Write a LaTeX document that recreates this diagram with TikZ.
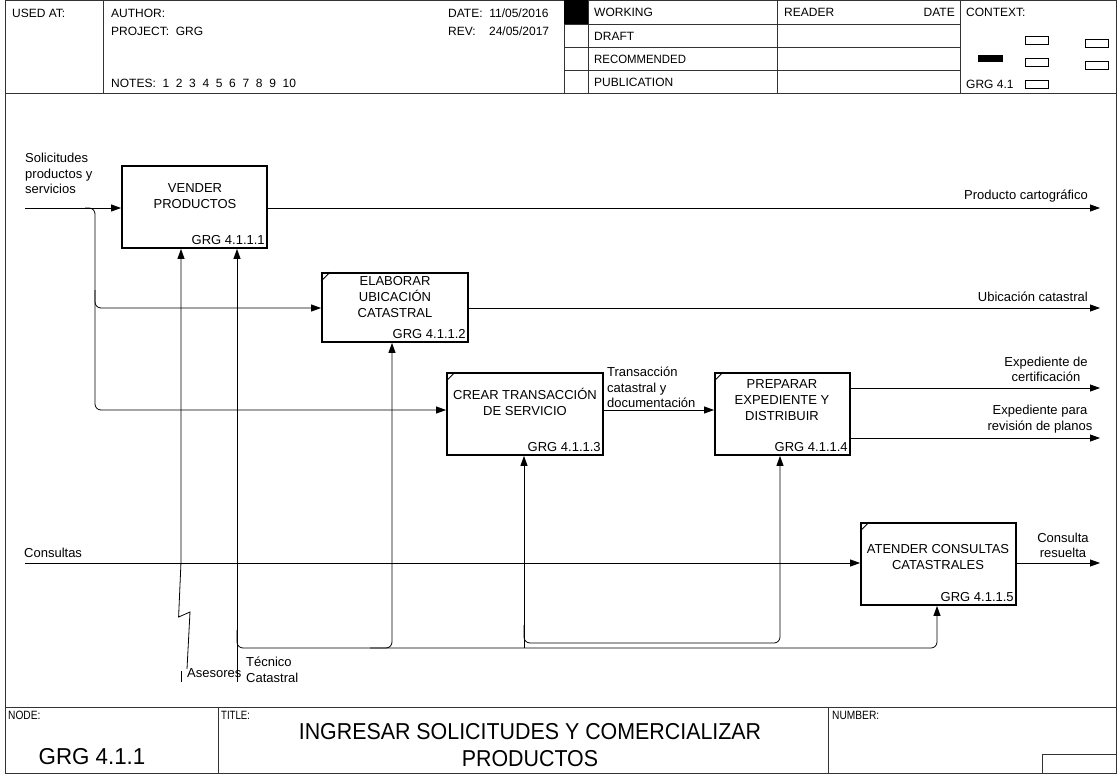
\documentclass[tikz,border=0pt]{standalone}
\usepackage{fontspec}
\usepackage{graphicx}
\setmainfont{Liberation Sans}
\usetikzlibrary{arrows.meta}
\begin{document}
\begin{tikzpicture}[x=1pt,y=-1pt,
  every node/.style={inner sep=0pt, font=\fontsize{13}{15.5}\selectfont},
  hdr/.style={anchor=west, font=\fontsize{12}{14}\selectfont},
  frameline/.style={line width=1pt, draw=black!80},
  procbox/.style={draw, line width=1.8pt, inner sep=0pt},
  boxtext/.style={align=center, font=\fontsize{13}{16}\selectfont},
  boxnum/.style={anchor=south east},
  corner/.style={line width=1pt},
  flow/.style={line width=0.8pt, -{Triangle[length=10pt,width=7pt]}},
  plainline/.style={line width=0.8pt},
  ctx/.style={draw, line width=0.7pt},
  small/.style={anchor=north west, font=\fontsize{12}{14}\selectfont}
]
\useasboundingbox (0,0) rectangle (1117,774);
% ---------- frame ----------
\draw[frameline] (5,0.5) rectangle (1116,773);
\draw[frameline] (5,93) -- (1116,93);
\foreach \xx in {103,564,588,777,960} \draw[frameline] (\xx,0) -- (\xx,93);
\foreach \yy in {24,47,70} \draw[frameline] (564,\yy) -- (960,\yy);
\fill (564,0) rectangle (588,24);
% header texts
\node[hdr] (usedat) at (12,13) {USED AT:};
\node[hdr] (author) at (111,13) {AUTHOR:};
\node[hdr] (project) at (111,31) {PROJECT:\ \ GRG};
\node[hdr] (notes) at (111,83) {NOTES:\ \ 1\ \ 2\ \ 3\ \ 4\ \ 5\ \ 6\ \ 7\ \ 8\ \ 9\ \ 10};
\node[hdr] (date) at (448,13) {DATE:\ \ 11/05/2016};
\node[hdr] (rev) at (448,31) {REV:\ \ \ \ 24/05/2017};
\node[hdr] (working) at (594,12.5) {WORKING};
\node[hdr] (draft) at (594,36) {DRAFT};
\node[hdr] (recommended) at (594,59) {\scalebox{0.95}[1]{RECOMMENDED}};
\node[hdr] (publication) at (594,82) {PUBLICATION};
\node[hdr] (reader) at (784,12.5) {READER};
\node[hdr,anchor=east] (rdate) at (955,12.5) {DATE};
\node[hdr] (context) at (966,12.5) {CONTEXT:};
\node[hdr] (ctxnode) at (966,84) {GRG 4.1};
\fill (978,55) rectangle (1003,62);
\draw[ctx] (1025,36) rectangle (1048,44);
\draw[ctx] (1025,58) rectangle (1048,66);
\draw[ctx] (1025,80) rectangle (1048,88);
\draw[ctx] (1085,39) rectangle (1108,47);
\draw[ctx] (1085,61) rectangle (1108,69);
% ---------- footer ----------
\draw[frameline] (5,707) -- (1116,707);
\draw[frameline] (218,707) -- (218,773);
\draw[frameline] (828,707) -- (828,773);
\draw[frameline] (1042,773) -- (1042,754) -- (1116,754);
\node[small] (nodelbl) at (8,711) {\scalebox{0.85}[1]{NODE:}};
\node[small] (titlelbl) at (221,711) {\scalebox{0.8}[1]{TITLE:}};
\node[small] (numberlbl) at (832,711) {\scalebox{0.85}[1]{NUMBER:}};
\node[font=\fontsize{23}{27}\selectfont] (nodeid) at (92,757) {\scalebox{0.97}[1]{GRG 4.1.1}};
\node[font=\fontsize{23}{27}\selectfont, align=center] (title) at (530,745) {\scalebox{0.93}[1]{INGRESAR SOLICITUDES Y COMERCIALIZAR}\\\scalebox{0.93}[1]{PRODUCTOS}};
% ---------- activity boxes ----------
\node[procbox, minimum width=145pt, minimum height=82pt] (b1) at (194.5,207) {};
\node[procbox, minimum width=146pt, minimum height=69pt] (b2) at (395,307.5) {};
\node[procbox, minimum width=156pt, minimum height=82pt] (b3) at (525,414) {};
\node[procbox, minimum width=135pt, minimum height=82pt] (b4) at (782.5,414) {};
\node[procbox, minimum width=155pt, minimum height=82pt] (b5) at (938.5,564) {};
\foreach \b in {b2,b3,b4,b5}
  \draw[corner] ([yshift=-9pt]\b.north west) -- ([xshift=9pt]\b.north west);
\node[boxtext] (t1) at (195,196) {VENDER\\PRODUCTOS};
\node[boxtext] (t2) at (395,297) {ELABORAR\\UBICACIÓN\\CATASTRAL};
\node[boxtext] (t3) at (525,402) {CREAR TRANSACCIÓN\\DE SERVICIO};
\node[boxtext] (t4) at (782,400) {PREPARAR\\EXPEDIENTE Y\\DISTRIBUIR};
\node[boxtext] (t5) at (938,557) {ATENDER CONSULTAS\\CATASTRALES};
\node[boxnum] (n1) at ([xshift=-3pt,yshift=4pt]b1.south east) {GRG 4.1.1.1};
\node[boxnum] (n2) at ([xshift=-3pt,yshift=4pt]b2.south east) {GRG 4.1.1.2};
\node[boxnum] (n3) at ([xshift=-3pt,yshift=4pt]b3.south east) {GRG 4.1.1.3};
\node[boxnum] (n4) at ([xshift=-3pt,yshift=4pt]b4.south east) {GRG 4.1.1.4};
\node[boxnum] (n5) at ([xshift=-3pt,yshift=4pt]b5.south east) {GRG 4.1.1.5};
% ---------- coordinates ----------
\coordinate (in1) at (25,208);
\coordinate (in5) at (25,563);
\coordinate (br) at (85,208);
\coordinate (o1) at (1100,208);
\coordinate (o2) at (1100,308);
\coordinate (o4a) at (1100,388);
\coordinate (o4b) at (1100,438);
\coordinate (o5) at (1100,563);
\coordinate (asA) at (187,669);
\coordinate (asB) at (181,671);
\coordinate (asC) at (181,682);
\coordinate (tcA) at (237,682);
% ---------- inputs ----------
\draw[flow] (in1) -- (in1 -| b1.west);
\draw[flow, rounded corners=6pt] (br) -- (95,208) -- (95,410) -- (95,410 -| b3.west);
\draw[flow, rounded corners=6pt] (95,290) -- (95,308) -- (95,308 -| b2.west);
\draw[flow] (in5) -- (in5 -| b5.west);
% ---------- outputs ----------
\draw[flow] (o1 -| b1.east) -- (o1);
\draw[flow] (o2 -| b2.east) -- (o2);
\draw[flow] (b3.east |- 0,410) -- (b4.west |- 0,410);
\draw[flow] (o4a -| b4.east) -- (o4a);
\draw[flow] (o4b -| b4.east) -- (o4b);
\draw[flow] (o5 -| b5.east) -- (o5);
% ---------- mechanisms ----------
\draw[flow] (asA) -- (190,612) -- (178.6,617) -- (181,562) -- (181,0 |- b1.south);
\draw[plainline] (asB) -- (asC);
\draw[flow] (tcA) -- (tcA |- b1.south);
\draw[flow, rounded corners=6pt] (237,630) -- (237,648) -- (937,648) -- (937,0 |- b5.south);
\draw[flow, rounded corners=6pt] (370,648) -- (392,648) -- (392,0 |- b2.south);
\draw[flow] (524,648) -- (524,0 |- b3.south);
\draw[flow, rounded corners=6pt] (524,625) -- (524,643) -- (780,643) -- (780,0 |- b4.south);
% ---------- labels ----------
\node[align=left, anchor=north west] (lsol) at (25,153) {Solicitudes\\productos y\\servicios};
\node[anchor=south east] (lprod) at (1088,202) {Producto cartográfico};
\node[anchor=south east] (lubic) at (1088,302) {Ubicación catastral};
\node[align=left, anchor=south west] (ltrans) at (607,408) {Transacción\\catastral y\\documentación};
\node[align=center, anchor=south] (lcert) at (1046,382) {Expediente de\\certificación};
\node[align=center, anchor=south] (lrev) at (1040,433) {Expediente para\\revisión de planos};
\node[anchor=south west] (lcons) at (24,558) {Consultas};
\node[align=center, anchor=south] (lres) at (1063,558) {Consulta\\resuelta};
\node[anchor=west] (lases) at (187,673) {Asesores};
\node[align=left, anchor=north west] (ltec) at (246,657) {Técnico\\Catastral};
\end{tikzpicture}
\end{document}
